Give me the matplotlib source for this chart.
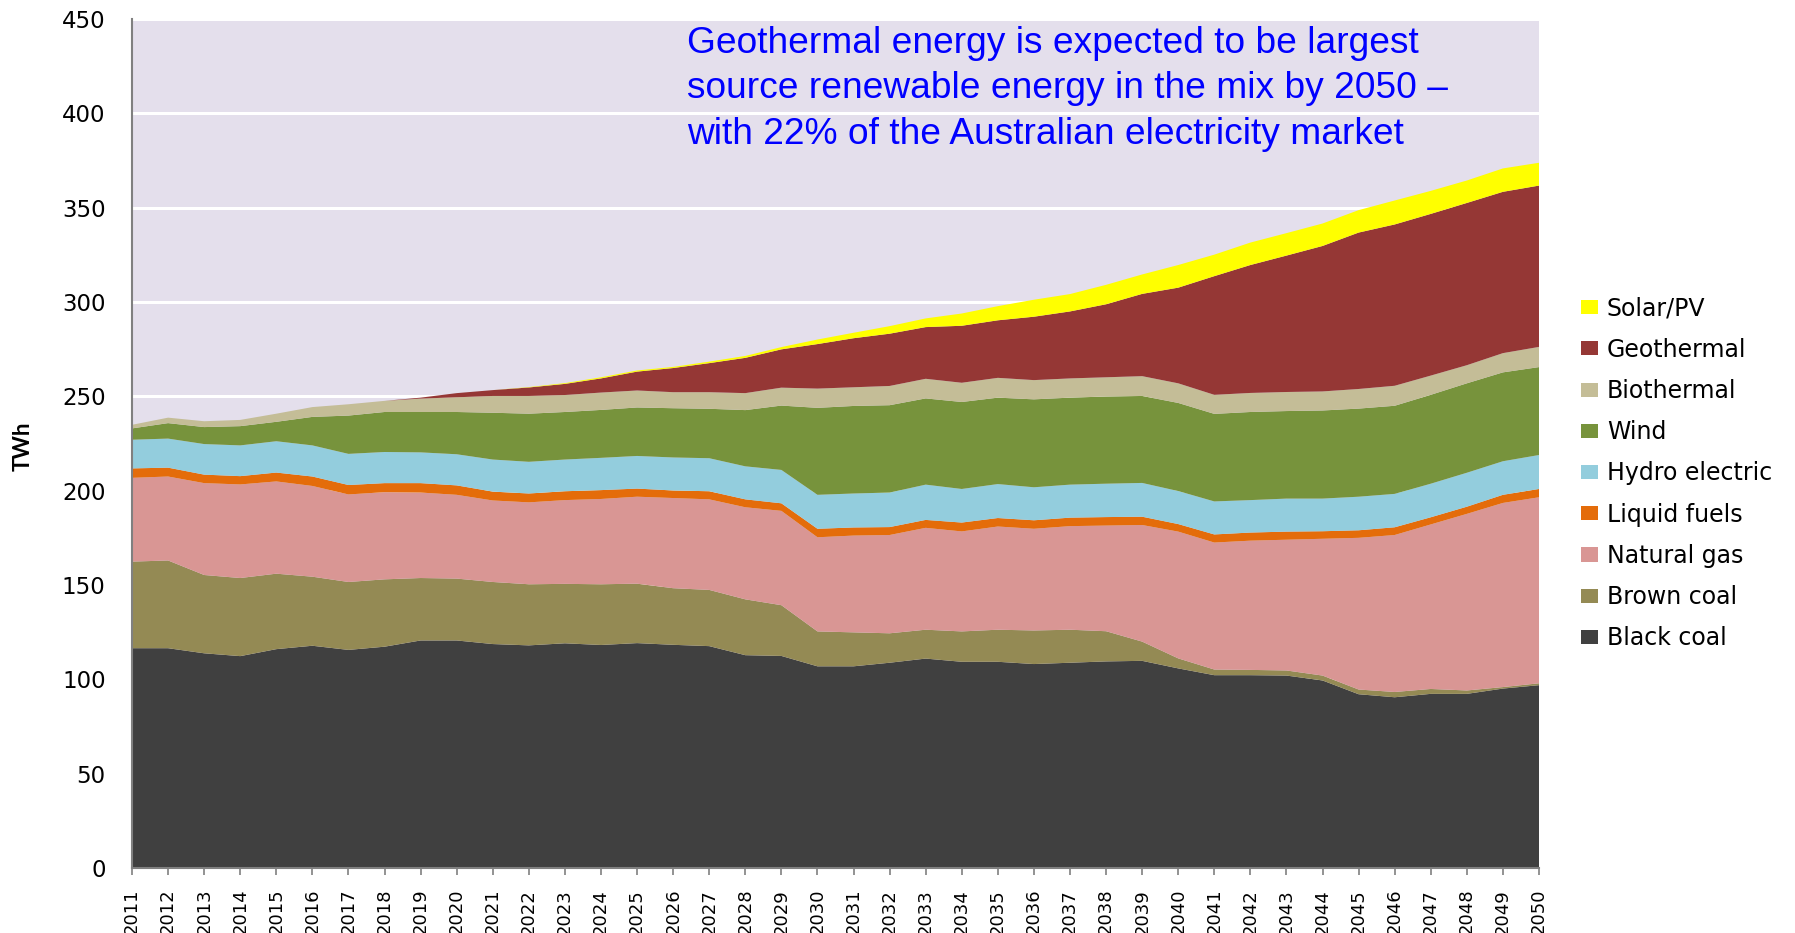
import matplotlib
matplotlib.use("Agg")
import matplotlib.pyplot as plt
from matplotlib.patches import Patch
from matplotlib import font_manager
import numpy as np

# --- data (TWh per source) ---
years = list(range(2011, 2051))

black_coal = [116.5, 116.5, 113.8, 112.3, 116.0, 117.8, 115.6, 117.3, 120.6, 120.6,
              118.7, 118.0, 119.1, 118.2, 119.2, 118.3, 117.6, 112.8, 112.4, 106.9,
              106.9, 108.8, 111.0, 109.3, 109.3, 108.1, 108.8, 109.5, 109.8, 105.8,
              102.2, 102.2, 102.0, 99.4, 92.1, 90.5, 92.3, 92.3, 95.1, 96.9]
brown_coal = [45.9, 46.5, 41.5, 41.4, 40.0, 36.6, 36.0, 35.7, 33.1, 32.8,
              32.9, 32.4, 31.5, 32.2, 31.5, 30.0, 29.8, 29.6, 26.9, 18.5,
              18.0, 15.6, 15.3, 16.1, 17.0, 17.8, 17.5, 16.0, 10.2, 5.3,
              3.0, 2.8, 2.7, 2.6, 2.5, 2.8, 2.6, 1.8, 0.8, 1.0]
natural_gas = [44.4, 44.5, 48.7, 49.6, 48.9, 48.1, 46.4, 46.2, 45.3, 44.4,
               43.2, 43.4, 44.4, 45.2, 46.1, 47.8, 48.0, 48.8, 50.0, 49.9,
               51.3, 52.1, 54.0, 53.0, 54.7, 53.9, 54.9, 56.0, 61.8, 67.2,
               67.3, 68.5, 69.3, 72.5, 80.4, 83.2, 87.2, 93.6, 97.6, 98.6]
liquid_fuels = [5.0, 4.7, 4.5, 4.4, 4.7, 5.0, 5.0, 4.8, 5.0, 5.0,
                4.7, 4.7, 4.7, 4.7, 4.3, 4.0, 4.3, 4.2, 4.0, 4.5,
                4.3, 4.2, 4.2, 4.7, 4.5, 4.5, 4.5, 4.5, 4.4, 4.0,
                4.3, 4.3, 4.3, 4.0, 4.0, 4.1, 3.8, 3.8, 4.3, 4.4]
hydro = [15.2, 15.4, 16.2, 16.3, 16.6, 16.5, 16.5, 16.5, 16.3, 16.5,
         17.0, 16.8, 16.8, 17.1, 17.3, 17.5, 17.5, 17.5, 17.7, 18.0,
         18.0, 18.3, 18.7, 17.8, 18.0, 17.5, 17.5, 17.7, 17.9, 17.5,
         17.5, 17.2, 17.5, 17.3, 17.8, 17.7, 17.8, 18.0, 17.8, 18.0]
wind = [6.0, 8.2, 9.0, 10.2, 10.3, 15.1, 20.3, 21.2, 21.4, 22.4,
        24.8, 25.5, 25.2, 25.4, 25.7, 26.1, 26.2, 29.8, 34.1, 46.1,
        46.4, 46.3, 45.7, 46.1, 45.8, 46.6, 46.1, 46.2, 46.1, 46.7,
        46.4, 46.7, 46.4, 46.7, 46.7, 46.7, 47.1, 47.4, 47.1, 46.6]
biothermal = [1.9, 2.9, 3.1, 3.3, 4.3, 5.2, 6.0, 5.9, 7.1, 7.8,
              8.9, 9.4, 9.0, 9.2, 9.0, 8.5, 8.8, 9.0, 9.5, 10.2,
              9.9, 10.2, 10.4, 10.2, 10.5, 10.2, 10.2, 10.2, 10.5, 10.4,
              10.1, 10.1, 10.1, 10.1, 10.4, 10.6, 10.2, 9.6, 10.2, 10.7]
geothermal = [0, 0, 0, 0, 0, 0, 0, 0, 0.5, 2.2,
              3.1, 4.5, 5.9, 7.5, 10.0, 12.8, 15.4, 18.7, 20.3, 23.6,
              26.0, 27.7, 27.4, 30.2, 30.5, 33.6, 35.5, 38.7, 43.6, 50.7,
              62.9, 67.8, 72.3, 77.1, 82.9, 85.5, 85.7, 86.0, 85.5, 85.5]
solar = [0, 0, 0, 0, 0, 0, 0, 0, 0, 0,
         0, 0.2, 0.4, 0.6, 0.6, 0.6, 0.8, 1.0, 1.2, 2.4,
         2.9, 4.0, 4.6, 6.5, 7.5, 9.0, 9.2, 10.3, 10.3, 12.0,
         11.4, 11.9, 11.9, 11.9, 11.9, 12.7, 12.2, 11.9, 12.4, 12.1]

labels = ["Black coal", "Brown coal", "Natural gas", "Liquid fuels", "Hydro electric",
          "Wind", "Biothermal", "Geothermal", "Solar/PV"]
colors = ["#404040", "#948A54", "#D99694", "#E46C0A", "#93CDDD",
          "#77933C", "#C4BD97", "#953735", "#FFFF00"]

note = ("Geothermal energy is expected to be largest\n"
        "source renewable energy in the mix by 2050 \u2013\n"
        "with 22% of the Australian electricity market")

# fonts
installed = {f.name for f in font_manager.fontManager.ttflist}
narrow = "Liberation Sans Narrow" if "Liberation Sans Narrow" in installed else "DejaVu Sans"

fig = plt.figure(figsize=(17.95, 9.33), dpi=100)
ax = fig.add_axes([132 / 1795, 1 - 868 / 933, (1539 - 132) / 1795, (868 - 19) / 933])
ax.set_facecolor("#E4DFEC")

series = [black_coal, brown_coal, natural_gas, liquid_fuels, hydro,
          wind, biothermal, geothermal, solar]
ax.stackplot(years, np.array(series), colors=colors, labels=labels,
             linewidth=0, zorder=2)

ax.set_xlim(years[0], years[-1])
ax.set_ylim(0, 450)
ax.set_yticks(np.arange(0, 451, 50))
ax.set_xticks(years)
ax.set_xticklabels([str(y) for y in years], rotation=90, fontsize=13,
                   family=[narrow, "DejaVu Sans"])
for lab in ax.get_yticklabels():
    lab.set_family("DejaVu Sans")
    lab.set_fontsize(16.5)

ax.yaxis.grid(True, color="white", linewidth=2.2)
ax.set_axisbelow(True)
ax.tick_params(axis="y", length=0, pad=19)
ax.tick_params(axis="x", length=5, width=1.2, color="#808080", pad=10)

for side in ["top", "right"]:
    ax.spines[side].set_visible(False)
for side in ["left", "bottom"]:
    ax.spines[side].set_color("#808080")
    ax.spines[side].set_linewidth(1.5)
    ax.spines[side].set_zorder(3)

fig.text(23 / 1795, 1 - 446 / 933, "TWh", rotation=90, ha="center", va="center",
         fontsize=16, fontweight="bold", family=["Lato", "DejaVu Sans"])

fig.text(687 / 1795, 1 - 26 / 933, note, ha="left", va="top", color="#0000FF",
         fontsize=26.7, linespacing=1.38, family=["Liberation Sans", "DejaVu Sans"])

# legend, Solar/PV on top
handles = [Patch(facecolor=c, edgecolor="none") for c in colors][::-1]
fig.legend(handles, labels[::-1], loc="upper left",
           bbox_to_anchor=(1581 / 1795, 1 - 296.5 / 933), bbox_transform=fig.transFigure,
           frameon=False, borderpad=0, borderaxespad=0,
           handlelength=0.72, handleheight=0.55, handletextpad=0.38,
           labelspacing=0.73, prop={"family": "DejaVu Sans", "size": 17})

fig.savefig("out.png", dpi=100)
